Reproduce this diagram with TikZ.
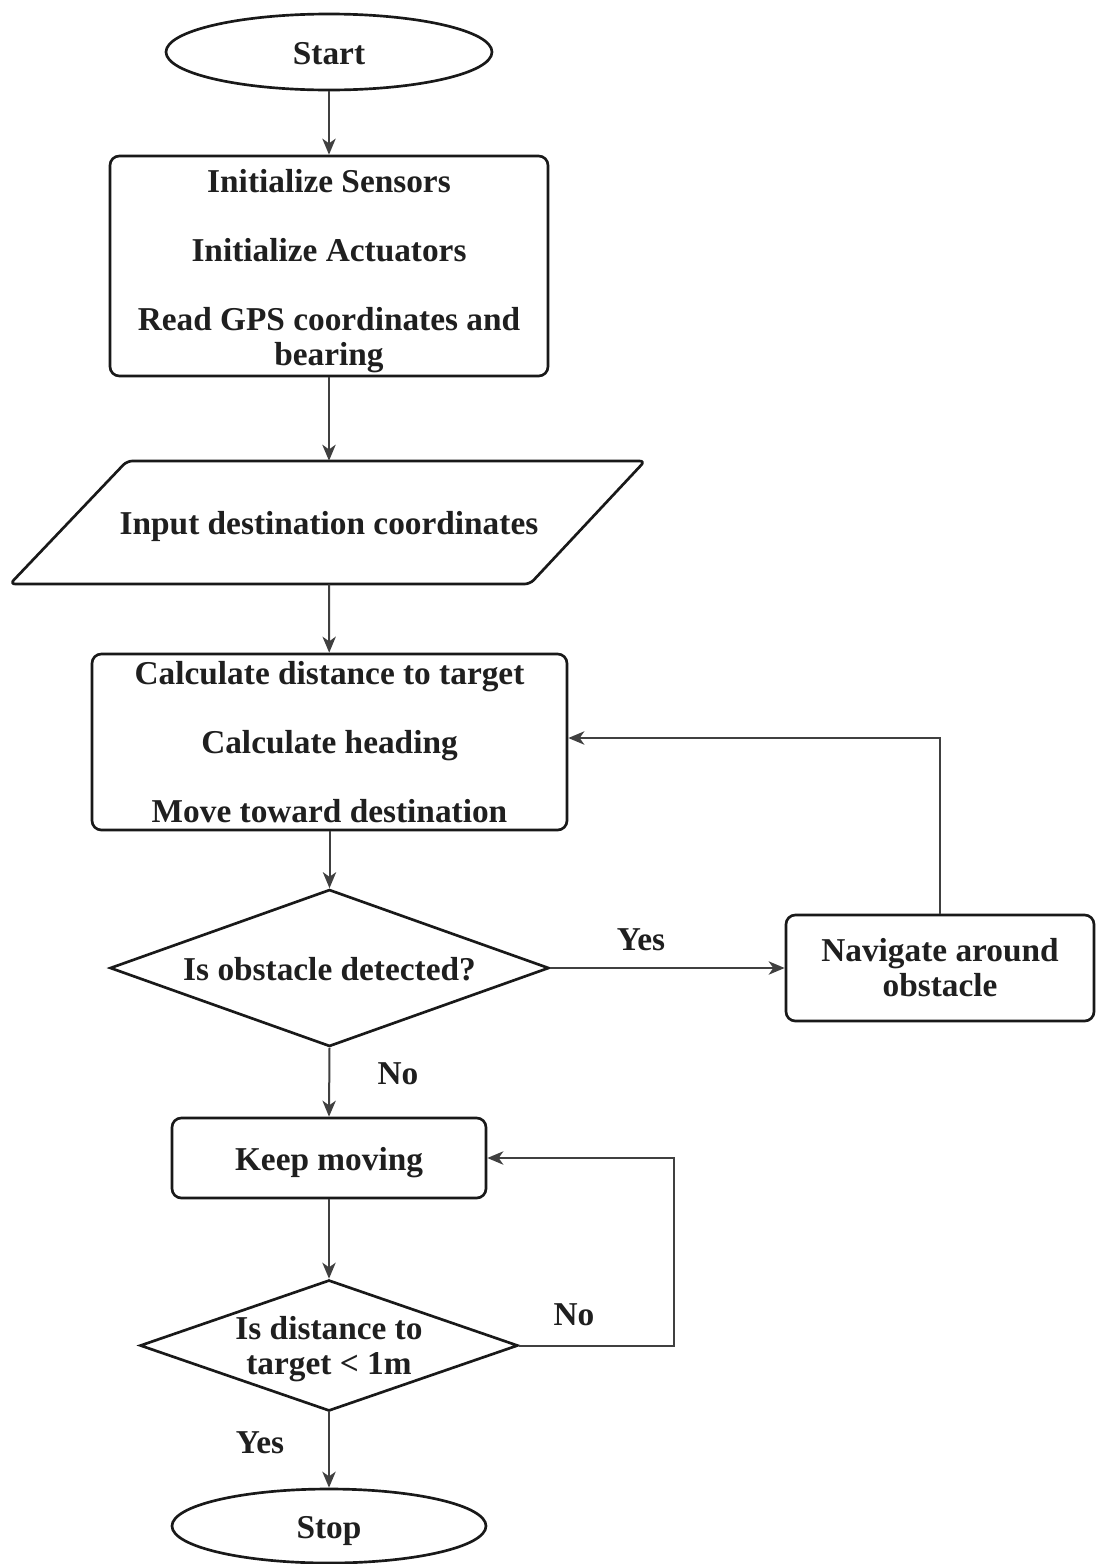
\documentclass[tikz,border=0pt]{standalone}
\usepackage{fontspec}
\setmainfont{Liberation Serif}
\usetikzlibrary{shapes.geometric,arrows.meta}

% invisible strut that lowers a multi-line block inside its frame
\newcommand{\toplift}[1]{\rule{0pt}{#1}}

\begin{document}
\begin{tikzpicture}[
  x=0.75pt, y=-0.75pt,
  every node/.style={font=\fontsize{25}{26.25}\selectfont\bfseries, text=black!88},
  shapeline/.style={draw=black!90, line width=2pt, fill=white},
  boxtext/.style={text height=23pt, text depth=5pt},
  procbox/.style={shapeline, rectangle, rounded corners=7pt, align=center, inner sep=0pt},
  terminal/.style={shapeline, ellipse, inner sep=0pt, boxtext, minimum width=#1},
  decision/.style={shapeline, diamond, inner sep=0pt, align=center},
  flow/.style={draw=black!75, line width=1.5pt, -{Stealth[length=12pt, width=10pt, inset=3.5pt]}},
  lbl/.style={inner sep=0pt}
]
\useasboundingbox (0,0) rectangle (1096,1564);
\fill[white] (0,0) rectangle (1096,1564);

% terminals and processes
\node[terminal=244.5pt, minimum height=57pt] (start) at (329,52) {Start};

\node[procbox, minimum width=328.5pt, minimum height=165pt] (init) at (329,266)
  {\toplift{25pt}Initialize Sensors\\[25.5pt]Initialize Actuators\\[25.5pt]Read GPS coordinates and\\bearing};

% data input: slanted outline around an unframed text node
\draw[shapeline, rounded corners=4pt] (127,461) -- (645,461) -- (530,584) -- (10,584) -- cycle;
\node[boxtext, inner sep=0pt, minimum height=92.25pt] (input) at (329,522.5)
  {Input destination coordinates};

\node[procbox, minimum width=356.25pt, minimum height=132pt] (calc) at (329.5,742)
  {Calculate distance to target\\[25.5pt]Calculate heading\\[25.5pt]Move toward destination};

\node[decision, aspect=2.8, boxtext, minimum width=329.25pt, minimum height=117.75pt] (obst) at (329.5,968)
  {Is obstacle detected?};

\node[procbox, minimum width=231pt, minimum height=79.5pt] (nav) at (940,968)
  {Navigate around\\obstacle};

\node[procbox, boxtext, minimum width=235.5pt, minimum height=60pt] (keep) at (329,1158)
  {Keep moving};

\node[decision, aspect=2.89, inner sep=-4pt, minimum width=283.5pt, minimum height=98.25pt] (dist) at (329,1345.5)
  {\toplift{23pt}Is distance to\\target \textless{} 1m};

\node[terminal=235.5pt, minimum height=55.5pt] (stop) at (329,1526) {Stop};

% connectors
\draw[flow] (start) -- (init);
\draw[flow] (init) -- (input.north);
\draw[flow] (input.south) -- (calc);
\draw[flow] (calc) -- (obst);
\draw[flow] (obst.east) -- (nav.west);
\draw[flow] (nav.north) |- ([yshift=3pt]calc.east);
\draw[flow] (obst.south) -- (keep.north);
\draw[flow] (keep) -- (dist);
\draw[flow] (dist.east) -- ++(155,0) |- (keep.east);
\draw[flow] (dist.south) -- (stop.north);

% branch labels
\node[lbl] (yes1) at (641,940) {Yes};
\node[lbl] (no1) at (398,1074) {No};
\node[lbl] (no2) at (574,1315) {No};
\node[lbl] (yes2) at (260,1443) {Yes};
\end{tikzpicture}
\end{document}
